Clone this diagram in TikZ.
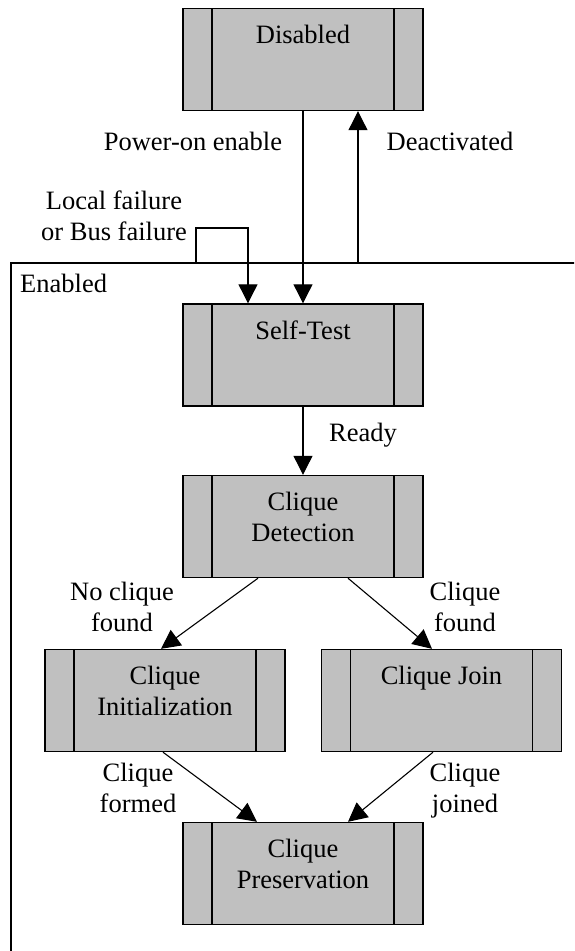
\documentclass[tikz,border=0pt]{standalone}
\usepackage{fontspec}
\setmainfont{Liberation Serif}
\usetikzlibrary{arrows.meta}
\definecolor{boxgray}{HTML}{C0C0C0}
\tikzset{
  every node/.style={font=\fontsize{26.5}{31}\selectfont},
  statebox/.style={draw, line width=1.4pt, fill=boxgray, minimum width=240pt,
    minimum height=102pt, inner sep=0pt,
    path picture={
      \draw[line width=1.4pt]
        ([xshift=29pt]path picture bounding box.north west) --
        ([xshift=29pt]path picture bounding box.south west)
        ([xshift=-29pt]path picture bounding box.north east) --
        ([xshift=-29pt]path picture bounding box.south east);
    }},
  boxtext/.style={anchor=base, align=center, inner sep=0pt},
  lbl/.style={anchor=base, align=center, inner sep=0pt},
  arr/.style={line width=1.1pt, -{Triangle[length=19pt,width=19pt]}},
  frame/.style={line width=1.3pt}
}
\begin{document}
\begin{tikzpicture}[x=1pt, y=-1pt]
\clip (0,0) rectangle (574,951);

% state boxes
\node[statebox] (dis) at (303,59.5) {};
\node[statebox] (st)  at (303,355) {};
\node[statebox] (det) at (303,526.5) {};
\node[statebox] (ini) at (165,700.5) {};
\node[statebox] (join) at (441.5,700.5) {};
\node[statebox] (pres) at (303,873.5) {};

% texts inside the boxes (anchored on the baseline of the last line)
\node[boxtext] (dis-t)  at ([yshift=-36pt]dis.north)  {Disabled};
\node[boxtext] (st-t)   at ([yshift=-36pt]st.north)   {Self-Test};
\node[boxtext] (det-t)  at ([yshift=-67pt]det.north)  {Clique\\Detection};
\node[boxtext] (ini-t)  at ([yshift=-67pt]ini.north)  {Clique\\Initialization};
\node[boxtext] (join-t) at ([yshift=-36pt]join.north) {Clique Join};
\node[boxtext] (pres-t) at ([yshift=-67pt]pres.north) {Clique\\Preservation};

% the "Enabled" super-state frame
\draw[frame] (11,960) -- (11,263) -- (580,263);
\node[lbl, anchor=base west] (en) at (20,292) {Enabled};

\coordinate (deact) at (358,263);
\coordinate (lf) at (196,263);

% transitions
\draw[arr] (dis.south) -- (st.north);
\draw[arr] (deact) -- (deact |- dis.south);
\draw[arr] (lf) -- ++(0,-35) -| ([xshift=-55pt]st.north);
\draw[arr] (st.south) -- (det.north);
\draw[arr] ([xshift=-45pt]det.south) -- ([xshift=-4pt]ini.north);
\draw[arr] ([xshift=45pt]det.south) -- ([xshift=-9.5pt]join.north);
\draw[arr] ([xshift=-2pt]ini.south) -- ([xshift=-46pt]pres.north);
\draw[arr] ([xshift=-8.5pt]join.south) -- ([xshift=45pt]pres.north);

% transition labels (anchored on the baseline of the last line)
\node[lbl] (l-pow) at (193,150) {Power-on enable};
\node[lbl] (l-dea) at (450,150) {Deactivated};
\node[lbl] (l-loc) at (114,240) {Local failure\\or Bus failure};
\node[lbl] (l-rdy) at (363,441) {Ready};
\node[lbl] (l-noc) at (122,631) {No clique\\found};
\node[lbl] (l-fnd) at (465,631) {Clique\\found};
\node[lbl] (l-frm) at (138,812) {Clique\\formed};
\node[lbl] (l-jnd) at (465,812) {Clique\\joined};
\end{tikzpicture}
\end{document}
